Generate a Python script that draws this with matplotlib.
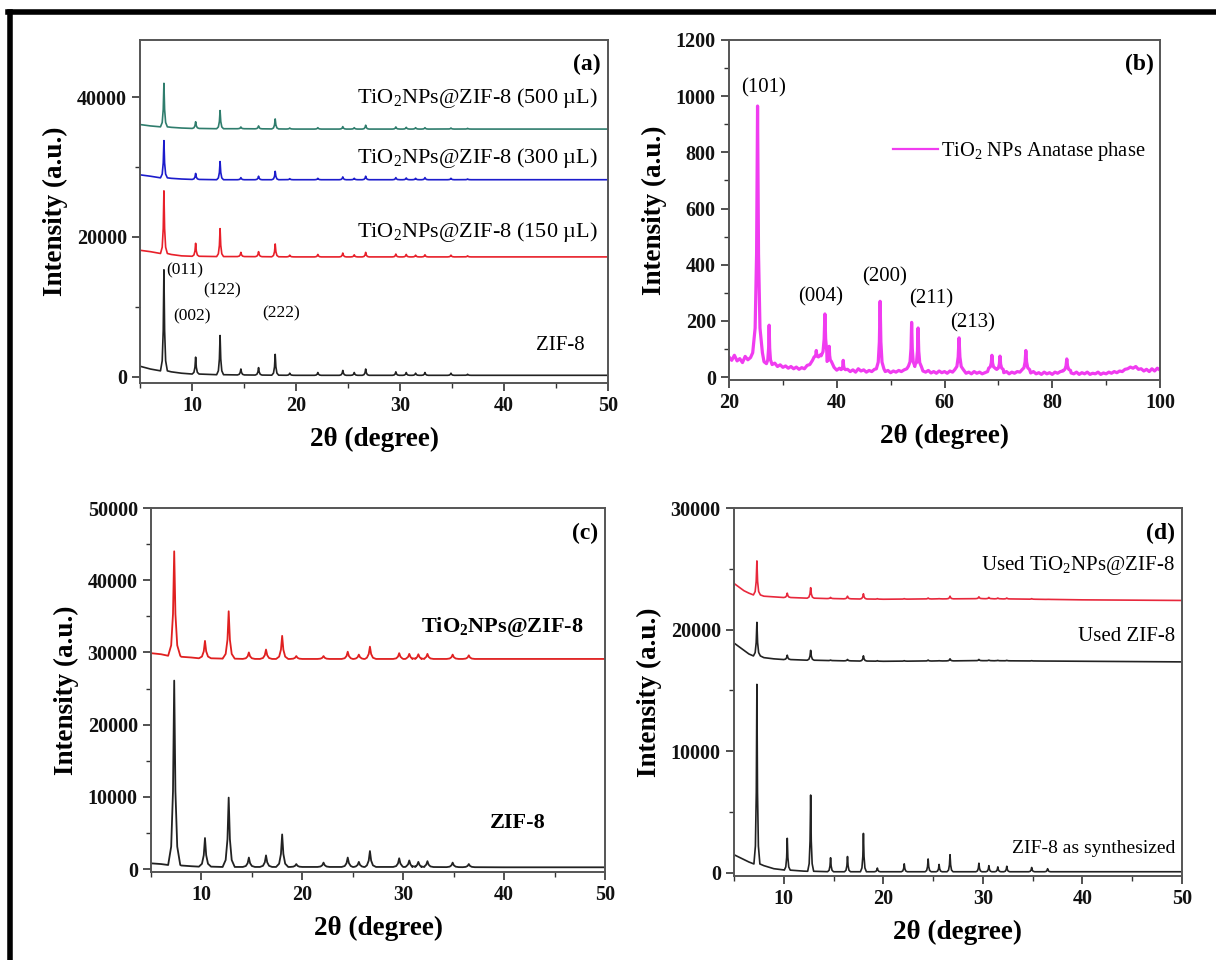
import numpy as np
import matplotlib
matplotlib.use("Agg")
import matplotlib.pyplot as plt
from matplotlib.lines import Line2D
from matplotlib.ticker import MultipleLocator

plt.rcParams['font.family'] = ['Liberation Serif', 'DejaVu Serif']
plt.rcParams['mathtext.fontset'] = 'custom'
plt.rcParams['mathtext.rm'] = 'Liberation Serif'
plt.rcParams['mathtext.bf'] = 'Liberation Serif:bold'
plt.rcParams['mathtext.it'] = 'Liberation Serif:italic'

# ---------------- data ----------------
# ZIF-8 reflection positions (2theta, deg)
zif_pos = [7.3, 10.35, 12.7, 14.7, 16.4, 18.0, 19.4, 22.1, 24.5, 25.6, 26.7,
           29.6, 30.6, 31.5, 32.4, 34.9, 36.5]

# panel (a)
a_base_x = [5, 6, 7, 8, 9, 10, 12, 15, 20, 30, 50]
a_zif_base = [1500, 1100, 900, 700, 500, 400, 300, 250, 200, 200, 200]
a_zif_top = [15300, 2800, 5900, 1100, 1300, 3200, 500, 600, 900, 600, 1100,
             700, 600, 500, 600, 500, 350]
a_150_base = [18100, 17900, 17700, 17500, 17300, 17250, 17200, 17200, 17150, 17150, 17150]
a_150_top = [26600, 19100, 21200, 17800, 17900, 19000, 17400, 17500, 17700, 17450, 17800,
             17550, 17500, 17400, 17450, 17400, 17300]
a_300_base = [28900, 28700, 28500, 28400, 28300, 28250, 28200, 28200, 28200, 28200, 28200]
a_300_top = [33800, 29100, 30800, 28500, 28700, 29400, 28350, 28400, 28600, 28400, 28700,
             28500, 28450, 28400, 28500, 28400, 28300]
a_500_base = [36100, 35900, 35800, 35700, 35600, 35550, 35500, 35500, 35450, 35450, 35450]
a_500_top = [42000, 36500, 38100, 35750, 35900, 36900, 35600, 35650, 35800, 35650, 36000,
             35750, 35700, 35650, 35650, 35600, 35550]
a_labels = ["TiO$_2$NPs@ZIF-8 (500 µL)", "TiO$_2$NPs@ZIF-8 (300 µL)",
            "TiO$_2$NPs@ZIF-8 (150 µL)", "ZIF-8"]
a_hkl = ["(011)", "(002)", "(122)", "(222)"]

# panel (b) TiO2 anatase (baseline sampled every 0.5 deg from 20 to 100)
b_noise = [72, 60, 78, 58, 66, 52, 74, 62, 70, 80,
           90, 85, 60, 55, 50, 48, 45, 50, 38, 44,
           35, 40, 32, 38, 30, 36, 28, 34, 30, 42,
           45, 60, 70, 75, 80, 85, 70, 60, 40, 35,
           25, 32, 30, 22, 28, 20, 26, 18, 30, 22,
           26, 18, 24, 20, 28, 30, 30, 28, 20, 24,
           16, 22, 18, 24, 20, 26, 30, 35, 40, 45,
           40, 30, 22, 18, 24, 15, 20, 14, 22, 16,
           20, 14, 22, 18, 25, 28, 25, 20, 14, 18,
           12, 20, 14, 18, 12, 16, 20, 28, 35, 30,
           32, 25, 16, 20, 12, 18, 14, 20, 18, 25,
           28, 22, 15, 20, 12, 16, 10, 18, 12, 16,
           10, 18, 14, 20, 22, 25, 22, 15, 12, 18,
           10, 16, 12, 18, 10, 14, 12, 18, 10, 15,
           12, 18, 14, 20, 16, 22, 20, 28, 30, 36,
           32, 38, 28, 30, 22, 28, 20, 30, 22, 32,
           25]
b_pos = [25.3, 27.45, 36.2, 37.8, 38.6, 41.2, 48.05, 53.9, 55.1, 62.7, 68.8, 70.3, 75.1, 82.7]
b_top = [965, 185, 95, 225, 110, 60, 270, 195, 175, 140, 78, 75, 95, 65]
b_hw = [0.9, 0.5, 0.4, 0.7, 0.4, 0.4, 0.7, 0.6, 0.6, 0.8, 0.6, 0.6, 0.7, 0.7]
b_hkl = ["(101)", "(004)", "(200)", "(211)", "(213)"]

# panel (c)
c_base_x = [5, 6, 7, 8, 9, 10, 12, 15, 20, 30, 40, 50]
c_zif_base = [800, 700, 600, 500, 400, 350, 300, 300, 300, 300, 250, 250]
c_zif_top = [26100, 4300, 9900, 1600, 1900, 4800, 700, 900, 1600, 1000, 2500,
             1500, 1200, 1000, 1100, 900, 700]
c_tio_base = [29900, 29750, 29600, 29400, 29300, 29200, 29150, 29100, 29100, 29100, 29100, 29100]
c_tio_top = [44000, 31600, 35700, 30000, 30400, 32300, 29500, 29500, 30100, 29700, 30800,
             29900, 29800, 29750, 29800, 29700, 29600]

# panel (d)
d_base_x = [5, 5.5, 6, 6.5, 7, 8, 9, 10, 12, 15, 20, 30, 40, 50]
d_zif_base = [1500, 1300, 1100, 900, 800, 600, 350, 250, 150, 100, 100, 100, 100, 100]
d_zif_top = [15500, 2850, 6400, 1250, 1350, 3250, 400, 750, 1150, 700, 1500,
             800, 600, 500, 550, 450, 350]
d_uz_base = [18900, 18600, 18300, 18000, 17900, 17700, 17600, 17550, 17500, 17450, 17400, 17450, 17400, 17350]
d_uz_top = [20600, 17900, 18300, 17500, 17550, 17850, 17450, 17450, 17500, 17450, 17600,
            17550, 17500, 17480, 17480, 17450, 17420]
d_ut_base = [23800, 23500, 23200, 23000, 22900, 22750, 22700, 22650, 22600, 22550, 22500, 22550, 22450, 22400]
d_ut_top = [25650, 23000, 23450, 22650, 22750, 22950, 22550, 22550, 22600, 22550, 22750,
            22700, 22650, 22600, 22600, 22550, 22500]

# ---------------- helpers ----------------
OFF = [-1.0, -0.5, -0.2, 0.0, 0.2, 0.5, 1.0]
FRAC = [0.0, 0.1, 0.4, 1.0, 0.4, 0.1, 0.0]


def pattern(base_x, base_y, pos, top, hw):
    if np.isscalar(hw):
        hw = [hw] * len(pos)
    xs, ys = [], []
    for bx, by in zip(base_x, base_y):
        if all(abs(bx - p) > h for p, h in zip(pos, hw)):
            xs.append(bx)
            ys.append(by)
    for p, t, h in zip(pos, top, hw):
        b = np.interp(p, base_x, base_y)
        for o, f in zip(OFF, FRAC):
            xs.append(p + o * h)
            ys.append(b + f * (t - b))
    xs = np.array(xs)
    ys = np.array(ys)
    k = np.argsort(xs)
    return xs[k], ys[k]


def style(ax, xmaj, xmin, ymaj, ymin):
    ax.xaxis.set_major_locator(MultipleLocator(xmaj))
    ax.xaxis.set_minor_locator(MultipleLocator(xmin))
    ax.yaxis.set_major_locator(MultipleLocator(ymaj))
    ax.yaxis.set_minor_locator(MultipleLocator(ymin))
    ax.tick_params(which='major', direction='out', length=6, width=1.2, colors='#333333',
                   labelsize=14.5, labelcolor='#111111')
    ax.tick_params(which='minor', direction='out', length=3.5, width=1.0, colors='#333333')
    for lab in ax.get_xticklabels() + ax.get_yticklabels():
        lab.set_fontweight('bold')
    for s in ax.spines.values():
        s.set_color('#555555')
        s.set_linewidth(1.4)


W, H = 1216, 960
fig = plt.figure(figsize=(W / 100, H / 100), dpi=100)


def axes_px(l, t, r, b):
    return fig.add_axes([l / W, 1 - b / H, (r - l) / W, (b - t) / H])


lab_kw = dict(fontsize=19.5, fontweight='bold')

# ---- (a) ----
ax = axes_px(140, 40, 608, 383)
x, y = pattern(a_base_x, a_zif_base, zif_pos, a_zif_top, 0.33)
ax.plot(x, y, color='#222222', lw=1.2)
x, y = pattern(a_base_x, a_150_base, zif_pos, a_150_top, 0.33)
ax.plot(x, y, color='#e8202a', lw=1.2)
x, y = pattern(a_base_x, a_300_base, zif_pos, a_300_top, 0.33)
ax.plot(x, y, color='#1c1ccc', lw=1.2)
x, y = pattern(a_base_x, a_500_base, zif_pos, a_500_top, 0.33)
ax.plot(x, y, color='#2f7d6d', lw=1.2)
ax.set_xlim(5, 50)
ax.set_ylim(-900, 48200)
style(ax, 10, 5, 20000, 10000)
ax.set_xlabel("2θ (degree)", labelpad=8, **lab_kw)
ax.set_ylabel("Intensity (a.u.)", labelpad=6, **lab_kw)
ax.text(49, 39900, a_labels[0], ha='right', va='center', fontsize=16)
ax.text(49, 31300, a_labels[1], ha='right', va='center', fontsize=16)
ax.text(49, 20700, a_labels[2], ha='right', va='center', fontsize=16)
ax.text(45.4, 4500, a_labels[3], ha='center', va='center', fontsize=15)
ax.text(7.5, 15200, a_hkl[0], ha='left', va='center', fontsize=12.5)
ax.text(10.0, 8700, a_hkl[1], ha='center', va='center', fontsize=12.5)
ax.text(12.9, 12300, a_hkl[2], ha='center', va='center', fontsize=12.5)
ax.text(18.6, 9100, a_hkl[3], ha='center', va='center', fontsize=12.5)
ax.text(0.985, 0.96, "(a)", transform=ax.transAxes, ha='right', va='top',
        fontsize=17, fontweight='bold')

# ---- (b) ----
ax = axes_px(729, 40, 1160, 380)
bx = list(np.linspace(20, 100, len(b_noise)))
x, y = pattern(bx, b_noise, b_pos, b_top, b_hw)
ax.plot(x, y, color='#f03cf0', lw=2.3, label="TiO$_2$ NPs Anatase phase")
ax.set_xlim(20, 100)
ax.set_ylim(-10, 1200)
style(ax, 20, 10, 200, 100)
ax.set_xlabel("2θ (degree)", labelpad=8, **lab_kw)
ax.set_ylabel("Intensity (a.u.)", labelpad=6, **lab_kw)
ax.text(26.4, 1030, b_hkl[0], ha='center', va='center', fontsize=15)
ax.text(37.0, 285, b_hkl[1], ha='center', va='center', fontsize=15)
ax.text(48.9, 358, b_hkl[2], ha='center', va='center', fontsize=15)
ax.text(57.5, 280, b_hkl[3], ha='center', va='center', fontsize=15)
ax.text(65.3, 194, b_hkl[4], ha='center', va='center', fontsize=15)
leg = ax.legend(loc='upper right', bbox_to_anchor=(1.01, 0.76), frameon=False,
                fontsize=14.8, handlelength=2.2, handletextpad=0.15)
for ln in leg.get_lines():
    ln.set_linewidth(1.6)
ax.text(0.985, 0.96, "(b)", transform=ax.transAxes, ha='right', va='top',
        fontsize=17, fontweight='bold')

# ---- (c) ----
ax = axes_px(151, 508, 605, 872)
x, y = pattern(c_base_x, c_zif_base, zif_pos, c_zif_top, 0.6)
ax.plot(x, y, color='#222222', lw=1.3)
x, y = pattern(c_base_x, c_tio_base, zif_pos, c_tio_top, 0.6)
ax.plot(x, y, color='#e02020', lw=1.3)
ax.set_xlim(5, 50)
ax.set_ylim(-400, 50000)
style(ax, 10, 5, 10000, 5000)
ax.set_xlabel("2θ (degree)", labelpad=8, **lab_kw)
ax.set_ylabel("Intensity (a.u.)", labelpad=6, **lab_kw)
ax.text(39.8, 33500, r"TiO$_\mathbf{2}$NPs@ZIF-8", ha='center', va='center',
        fontsize=16, fontweight='bold')
ax.text(41.4, 6400, "ZIF-8", ha='center', va='center', fontsize=16, fontweight='bold')
ax.text(0.985, 0.96, "(c)", transform=ax.transAxes, ha='right', va='top',
        fontsize=17, fontweight='bold')

# ---- (d) ----
ax = axes_px(734, 508, 1182, 876)
x, y = pattern(d_base_x, d_zif_base, zif_pos, d_zif_top, 0.3)
ax.plot(x, y, color='#222222', lw=1.2)
x, y = pattern(d_base_x, d_uz_base, zif_pos, d_uz_top, 0.35)
ax.plot(x, y, color='#222222', lw=1.2)
x, y = pattern(d_base_x, d_ut_base, zif_pos, d_ut_top, 0.35)
ax.plot(x, y, color='#e8283c', lw=1.2)
ax.set_xlim(5, 50)
ax.set_ylim(-250, 30000)
style(ax, 10, 5, 10000, 5000)
ax.set_xlabel("2θ (degree)", labelpad=8, **lab_kw)
ax.set_ylabel("Intensity (a.u.)", labelpad=6, **lab_kw)
ax.text(49.3, 25300, "Used TiO$_2$NPs@ZIF-8", ha='right', va='center', fontsize=15)
ax.text(49.3, 19400, "Used ZIF-8", ha='right', va='center', fontsize=15)
ax.text(49.3, 2050, "ZIF-8 as synthesized", ha='right', va='center', fontsize=14)
ax.text(0.985, 0.96, "(d)", transform=ax.transAxes, ha='right', va='top',
        fontsize=17, fontweight='bold')

# black frame (top and left edge)
fig.add_artist(Line2D([8 / W, 1], [1 - 12 / H, 1 - 12 / H], color='black', lw=4,
                      transform=fig.transFigure))
fig.add_artist(Line2D([10 / W, 10 / W], [0, 1 - 12 / H], color='black', lw=4,
                      transform=fig.transFigure))

fig.savefig("out.png", dpi=100)
